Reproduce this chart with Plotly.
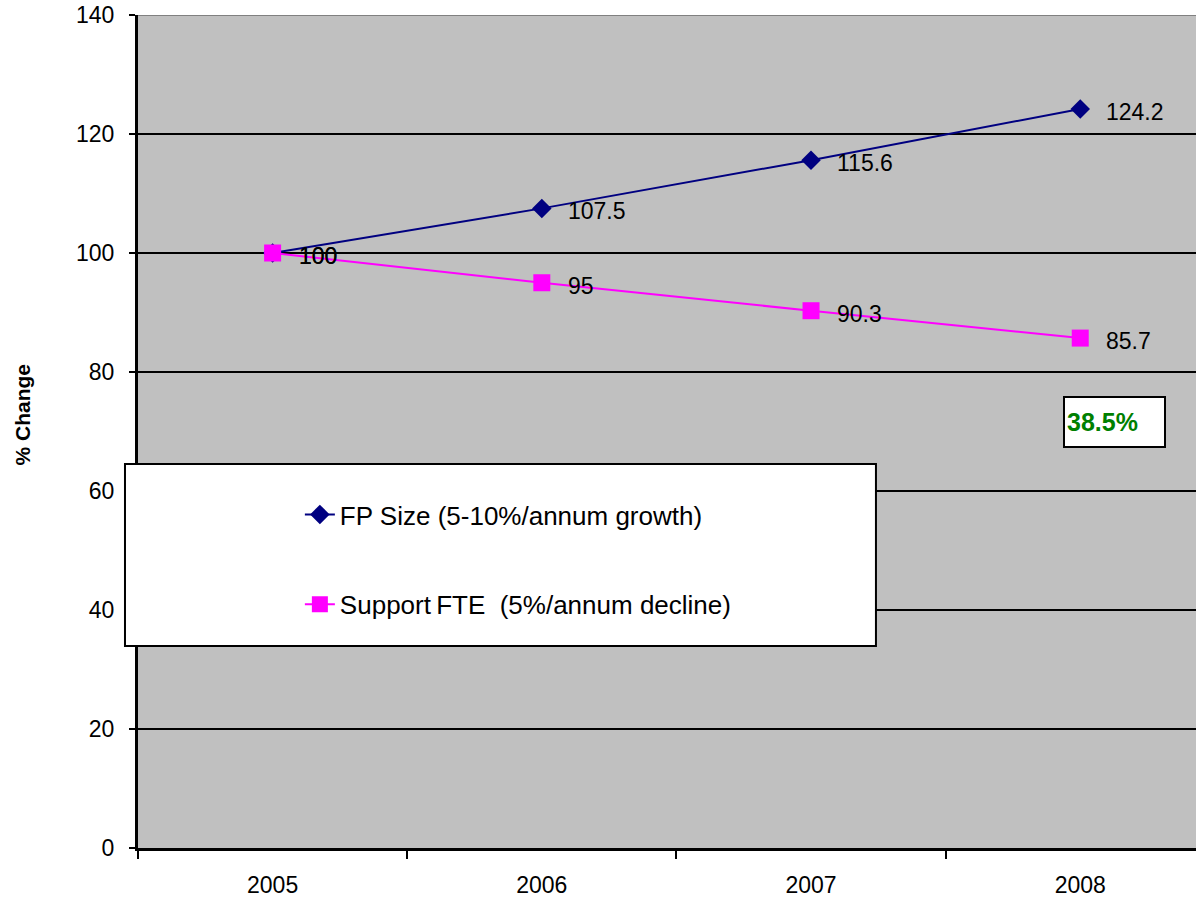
import plotly.graph_objects as go

years = ["2005", "2006", "2007", "2008"]
fp_size = [100, 107.5, 115.6, 124.2]
support_fte = [100, 95, 90.3, 85.7]
y_ticks = [0, 20, 40, 60, 80, 100, 120, 140]
fp_name = "FP Size (5-10%/annum growth)"
sup_name = "Support\u2009FTE\u00a0 (5%/annum decline)"
gap_text = "38.5%"

FONT = "Arial, Liberation Sans, sans-serif"

fig = go.Figure()
fig.add_trace(go.Scatter(
    x=years, y=fp_size, mode="lines+markers", name=fp_name, legendgroup="a",
    line=dict(color="#000080", width=2),
    marker=dict(symbol="diamond", size=15, color="#000080"),
))
fig.add_trace(go.Scatter(
    x=years, y=support_fte, mode="lines+markers", name=sup_name, legendgroup="b",
    line=dict(color="#FF00FF", width=2),
    marker=dict(symbol="square", size=17, color="#FF00FF"),
))

annotations = []
for series in (fp_size, support_fte):
    for idx, yv in enumerate(series):
        annotations.append(dict(
            x=idx, y=yv, xref="x", yref="y", text=f"{yv:g}", showarrow=False,
            xanchor="left", yanchor="middle", xshift=24, yshift=-3,
            font=dict(family=FONT, size=23, color="black"),
        ))

annotations.append(dict(
    x=0.8743, y=0.5426, xref="paper", yref="paper", xanchor="left", yanchor="top",
    text=f"<b>{gap_text}</b>", showarrow=False, align="left",
    width=95, height=44, bgcolor="white", bordercolor="black", borderwidth=2,
    borderpad=2, font=dict(family=FONT, size=25, color="#008000"),
))
annotations.append(dict(
    x=-0.1096, y=0.5, xref="paper", yref="paper", text="<b>% Change</b>",
    textangle=-90, showarrow=False, xanchor="center", yanchor="middle",
    yshift=17, font=dict(family=FONT, size=21, color="black"),
))

shapes = [
    dict(type="rect", xref="paper", yref="paper", x0=-0.0123, x1=0.6975,
         y0=0.2425, y1=0.461, fillcolor="white", line=dict(color="black", width=2),
         layer="above"),
    dict(type="line", xref="paper", yref="y", x0=0, x1=1, y0=140, y1=140,
         line=dict(color="#808080", width=2), layer="above"),
]

fig.update_layout(
    width=1196, height=900,
    margin=dict(l=138, r=0, t=15, b=52),
    paper_bgcolor="white", plot_bgcolor="#C0C0C0",
    font=dict(family=FONT, size=23, color="black"),
    showlegend=True,
    legend=dict(
        x=0.153, y=0.4286, xanchor="left", yanchor="top",
        bgcolor="rgba(0,0,0,0)", borderwidth=0,
        font=dict(family=FONT, size=26, color="black"),
        tracegroupgap=53,
    ),
    annotations=annotations,
    shapes=shapes,
)
fig.update_xaxes(
    type="category", range=[-0.5, 3.43], tickson="boundaries",
    ticks="outside", ticklen=8, tickwidth=2, tickcolor="black",
    showline=True, linecolor="black", linewidth=3, showgrid=False,
    ticklabelstandoff=14, tickfont=dict(family=FONT, size=23),
)
fig.update_yaxes(
    range=[0, 140], tickvals=y_ticks, ticks="outside", ticklen=6, tickwidth=2,
    tickcolor="black", showline=True, linecolor="black", linewidth=3,
    showgrid=True, gridcolor="black", gridwidth=1.5, zeroline=False,
    ticklabelstandoff=10, tickfont=dict(family=FONT, size=23),
)

fig.write_html(
    "out.html",
    config={"displayModeBar": False},
    post_script="document.body.style.margin='0';document.body.style.overflow='hidden';",
)
